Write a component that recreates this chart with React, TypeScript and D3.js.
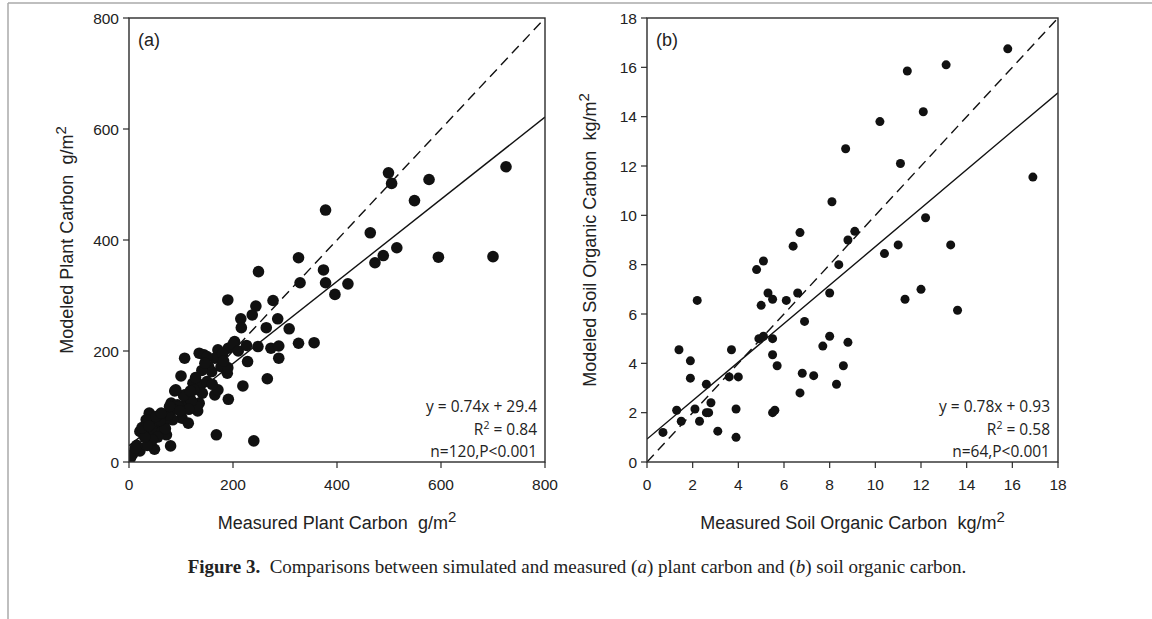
import React from "react";
import * as d3 from "d3";

// Panel (a): plant carbon, g/m2
const plantMeasured = [
  378, 326, 329, 374, 378, 249, 190, 277, 244, 237, 215, 216, 286, 264, 308, 326, 356, 248, 273, 288,
  288, 203, 191, 228, 107, 135, 144, 171, 165, 153, 177, 159, 189, 100, 123, 138, 150, 165, 171, 141,
  219, 266, 191, 88, 108, 111, 117, 135, 81, 93, 132, 102, 114, 80, 84, 39, 45, 57, 69, 33,
  21, 33, 48, 63, 72, 168, 240,
  725, 700, 595, 577, 549, 515, 499, 505, 489, 473, 464, 421, 396,
  80, 49, 21, 7, 3,
  190, 180, 160, 150, 140, 200, 125, 130, 120, 115, 105, 95, 90, 85, 75, 70, 60, 55, 45, 35,
  30, 25, 15, 12, 38, 52, 62, 78, 98, 118, 128, 146, 182, 210, 226,
];
const plantModeled = [
  454, 368, 323, 346, 323, 343, 292, 291, 281, 265, 258, 242, 258, 242, 240, 214, 215, 208, 205, 209,
  187, 217, 205, 181, 187, 196, 193, 202, 187, 172, 172, 163, 160, 155, 142, 139, 145, 121, 130, 124,
  137, 150, 113, 128, 121, 109, 115, 106, 106, 103, 92, 79, 70, 91, 76, 88, 73, 70, 73, 76,
  55, 49, 55, 55, 49, 49, 38,
  532, 370, 369, 509, 471, 386, 521, 502, 372, 359, 413, 321, 302,
  29, 23, 20, 14, 8,
  170, 195, 140, 190, 165, 212, 130, 100, 110, 95, 120, 100, 130, 95, 85, 60, 75, 45, 40, 30,
  45, 62, 30, 25, 65, 82, 88, 100, 92, 128, 152, 178, 182, 200, 210,
];

// Panel (b): soil organic carbon, kg/m2
const soilMeasured = [
  0.7, 1.3, 1.4, 1.5, 1.9, 1.9, 2.1, 2.2, 2.3, 2.6, 2.6, 2.7, 2.8, 3.1, 3.6, 3.7, 3.9, 3.9, 4.0, 4.8,
  4.9, 5.0, 5.1, 5.1, 5.3, 5.5, 5.5, 5.5, 5.5, 5.6, 5.7, 6.1, 6.4, 6.6, 6.7, 6.7, 6.8, 6.9, 7.3, 7.7,
  8.0, 8.0, 8.1, 8.3, 8.4, 8.6, 8.7, 8.8, 8.8, 9.1, 10.2, 10.4, 11.0, 11.1, 11.3, 11.4, 12.0, 12.1, 12.2, 13.1,
  13.3, 13.6, 15.8, 16.9,
];
const soilModeled = [
  1.2, 2.1, 4.55, 1.65, 4.1, 3.4, 2.15, 6.55, 1.65, 3.15, 2.0, 2.0, 2.4, 1.25, 3.45, 4.55, 2.15, 1.0, 3.45, 7.8,
  5.0, 6.35, 5.1, 8.15, 6.85, 6.6, 5.0, 4.35, 2.0, 2.1, 3.9, 6.55, 8.75, 6.85, 9.3, 2.8, 3.6, 5.7, 3.5, 4.7,
  6.85, 5.1, 10.55, 3.15, 8.0, 3.9, 12.7, 4.85, 9.0, 9.35, 13.8, 8.45, 8.8, 12.1, 6.6, 15.85, 7.0, 14.2, 9.9, 16.1,
  8.8, 6.15, 16.75, 11.55,
];

const plantTicks = [0, 200, 400, 600, 800];
const soilTicks = [0, 2, 4, 6, 8, 10, 12, 14, 16, 18];

const plantFit = { slope: 0.74, intercept: 29.4 };
const soilFit = { slope: 0.78, intercept: 0.93 };

const plantStats = ["y = 0.74x + 29.4", "R2 = 0.84", "n=120,P<0.001"];
const soilStats = ["y = 0.78x + 0.93", "R2 = 0.58", "n=64,P<0.001"];

const H = 444;
const AXIS_COLOR = "#2b2b2b";
const SANS = "Liberation Sans, Arial, sans-serif";
const STAT_FONT = "Open Sans, sans-serif";

type PanelProps = {
  left: number;
  top: number;
  width: number;
  xs: number[];
  ys: number[];
  max: number;
  ticks: number[];
  fit: { slope: number; intercept: number };
  stats: string[];
  label: string;
  xTitle: string;
  yTitle: string;
  unit: string;
  r: number;
  yTitleOffset: number;
};

function StatLine({ text, x, y }: { text: string; x: number; y: number }) {
  if (text.startsWith("R2")) {
    return (
      <text x={x} y={y} textAnchor="end" fontFamily={STAT_FONT} fontSize={15.5} fill="#222">
        R<tspan dy={-6} fontSize={10.5}>2</tspan>
        <tspan dy={6}>{text.slice(2)}</tspan>
      </text>
    );
  }
  return (
    <text x={x} y={y} textAnchor="end" fontFamily={STAT_FONT} fontSize={15.5} fill="#222">
      {text}
    </text>
  );
}

function Panel(p: PanelProps) {
  const W = p.width;
  const x = d3.scaleLinear().domain([0, p.max]).range([0, W]);
  const y = d3.scaleLinear().domain([0, p.max]).range([H, 0]);
  const fitLine = d3
    .line<number>()
    .x((v) => x(v))
    .y((v) => y(p.fit.slope * v + p.fit.intercept));
  const oneLine = d3
    .line<number>()
    .x((v) => x(v))
    .y((v) => y(v));
  const clipId = "clip-" + p.label.replace(/[()]/g, "");
  return (
    <g transform={`translate(${p.left},${p.top})`}>
      <defs>
        <clipPath id={clipId}>
          <rect x={0} y={0} width={W} height={H} />
        </clipPath>
      </defs>
      <g clipPath={`url(#${clipId})`}>
        <path d={oneLine([0, p.max]) || ""} stroke="#111" strokeWidth={1.4} strokeDasharray="10,6" fill="none" />
        <path d={fitLine([0, p.max]) || ""} stroke="#111" strokeWidth={1.4} fill="none" />
        {p.xs.map((v, i) => (
          <circle key={i} cx={x(v)} cy={y(p.ys[i])} r={p.r} fill="#111" />
        ))}
      </g>
      <rect x={0} y={0} width={W} height={H} fill="none" stroke={AXIS_COLOR} strokeWidth={1.4} />
      {p.ticks.map((t) => (
        <g key={"x" + t}>
          <line x1={x(t)} x2={x(t)} y1={H} y2={H + 6} stroke={AXIS_COLOR} strokeWidth={1.2} />
          <text x={x(t)} y={H + 28} textAnchor="middle" fontFamily={SANS} fontSize={15.5} fill="#222">
            {t}
          </text>
        </g>
      ))}
      {p.ticks.map((t) => (
        <g key={"y" + t}>
          <line x1={-6} x2={0} y1={y(t)} y2={y(t)} stroke={AXIS_COLOR} strokeWidth={1.2} />
          <text x={-10} y={y(t) + 5.5} textAnchor="end" fontFamily={SANS} fontSize={15.5} fill="#222">
            {t}
          </text>
        </g>
      ))}
      <text x={9} y={28} fontFamily={SANS} fontSize={18} fill="#222">
        {p.label}
      </text>
      {p.stats.map((s, i) => (
        <StatLine key={i} text={s} x={W - 8} y={H - 50 + i * 22.5} />
      ))}
      <text x={W / 2} y={H + 67} textAnchor="middle" fontFamily={SANS} fontSize={18} fill="#222">
        {p.xTitle}
        {"\u00a0\u00a0"}
        {p.unit}
        <tspan dy={-7} fontSize={15}>2</tspan>
      </text>
      <text
        transform={`translate(${p.yTitleOffset},${H / 2}) rotate(-90)`}
        textAnchor="middle"
        fontFamily={SANS}
        fontSize={18}
        fill="#222"
      >
        {p.yTitle}
        {"\u00a0\u00a0"}
        {p.unit}
        <tspan dy={-7} fontSize={15}>2</tspan>
      </text>
    </g>
  );
}

export default function App() {
  return (
    <svg
      width={1152}
      height={619}
      style={{ position: "absolute", left: 0, top: 0, background: "#fff" }}
    >
      <rect x={0} y={0} width={1152} height={619} fill="#fff" />
      <line x1={8} x2={1152} y1={3} y2={3} stroke="#aaa" strokeWidth={1.5} />
      <line x1={8} x2={8} y1={3} y2={619} stroke="#aaa" strokeWidth={1.5} />
      <Panel
        left={129}
        top={18}
        width={416}
        xs={plantMeasured}
        ys={plantModeled}
        max={800}
        ticks={plantTicks}
        fit={plantFit}
        stats={plantStats}
        label="(a)"
        xTitle="Measured Plant Carbon"
        yTitle="Modeled Plant Carbon"
        unit="g/m"
        r={5.8}
        yTitleOffset={-56}
      />
      <Panel
        left={647}
        top={18}
        width={411}
        xs={soilMeasured}
        ys={soilModeled}
        max={18}
        ticks={soilTicks}
        fit={soilFit}
        stats={soilStats}
        label="(b)"
        xTitle="Measured Soil Organic Carbon"
        yTitle="Modeled Soil Organic Carbon"
        unit="kg/m"
        r={4.5}
        yTitleOffset={-51}
      />
      <text x={577} y={573} textAnchor="middle" fontFamily="Liberation Serif, serif" fontSize={19} fill="#222">
        <tspan fontWeight="bold">Figure 3.</tspan>
        {"\u00a0\u00a0Comparisons between simulated and measured ("}
        <tspan fontStyle="italic">a</tspan>
        {") plant carbon and ("}
        <tspan fontStyle="italic">b</tspan>
        {") soil organic carbon."}
      </text>
    </svg>
  );
}
